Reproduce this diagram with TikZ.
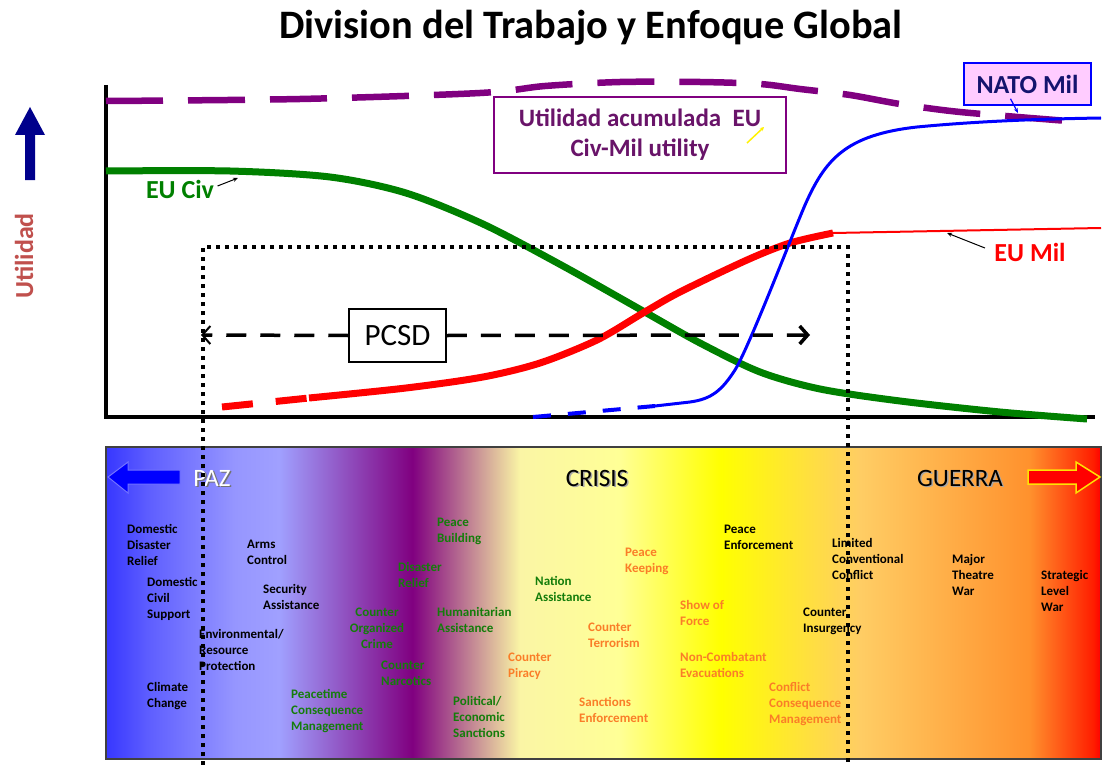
\documentclass[tikz,border=0pt]{standalone}
\usepackage{fontspec}
\setmainfont{Carlito}
\usetikzlibrary{arrows.meta}
\definecolor{cgreen}{RGB}{0,128,0}
\definecolor{cred}{RGB}{255,0,0}
\definecolor{cblue}{RGB}{0,0,255}
\definecolor{cpurple}{RGB}{128,0,128}
\definecolor{ptext}{RGB}{105,20,105}
\definecolor{tgreen}{RGB}{20,125,10}
\definecolor{torange}{RGB}{250,125,40}
\definecolor{navyarrow}{RGB}{0,0,140}
\definecolor{navytext}{RGB}{20,20,110}
\definecolor{natopink}{RGB}{255,204,255}
\definecolor{utilred}{RGB}{192,80,77}
\definecolor{sa}{RGB}{55,55,255}
\definecolor{sb}{RGB}{95,95,255}
\definecolor{sc}{RGB}{150,150,255}
\definecolor{sd}{RGB}{160,160,255}
\definecolor{se}{RGB}{128,0,128}
\definecolor{sf}{RGB}{250,245,165}
\definecolor{sg}{RGB}{255,255,150}
\definecolor{sh}{RGB}{255,255,0}
\definecolor{si}{RGB}{255,205,100}
\definecolor{sj}{RGB}{255,145,45}
\definecolor{sk}{RGB}{255,30,0}
\definecolor{sl}{RGB}{255,0,0}
\pgfdeclarehorizontalshading{spectrum}{100bp}{color(0bp)=(sa); color(25bp)=(sa); color(27.2bp)=(sb); color(31.5bp)=(sc); color(33.7bp)=(sd); color(40.4bp)=(se); color(45.8bp)=(sf); color(50.8bp)=(sg); color(55.9bp)=(sh); color(62.9bp)=(si); color(71.4bp)=(sj); color(74.6bp)=(sk); color(75bp)=(sl); color(100bp)=(sl)}
\tikzset{
  sm/.style={font=\fontsize{13}{16}\selectfont\bfseries, align=left, anchor=north west, inner sep=0pt},
  smk/.style={sm, text=black},
  smg/.style={sm, text=tgreen},
  smo/.style={sm, text=torange},
  zone/.style={font=\fontsize{25}{30}\selectfont},
  curvelabel/.style={font=\fontsize{26}{30}\selectfont\bfseries},
  pointer/.style={line width=1pt, -{Stealth[length=5pt,width=4pt]}},
  dotline/.style={line width=4pt, dash pattern=on 4pt off 5pt},
}
\begin{document}
\begin{tikzpicture}[x=1pt,y=-1pt]
\useasboundingbox (0,0) rectangle (1103,765);

% title
\node[font=\fontsize{40.4}{48}\selectfont\bfseries] (title) at (591,28) {Division del Trabajo y Enfoque Global};

% bottom spectrum panel
\shade[shading=spectrum] (106,447) rectangle (1101,759);
\draw[line width=2pt, draw=black!75] (106,447) rectangle (1101,759);
\coordinate (panel) at (603,603);

% panel arrows
\filldraw[fill=blue, draw=blue!55, line width=1pt] (108,477) -- (128,462) -- (128,470) -- (180,470) -- (180,484) -- (128,484) -- (128,493) -- cycle;
\filldraw[fill=red, draw=yellow!85!orange, line width=1.5pt] (1028,470) -- (1076,470) -- (1076,462) -- (1100,477) -- (1076,493) -- (1076,484) -- (1028,484) -- cycle;

% zone names
\node[zone, text=black!55] at (213.5,479.5) {PAZ};
\node[zone, text=white] (paz) at (212,478) {PAZ};
\node[zone, text=black!35] at (598.5,479.5) {CRISIS};
\node[zone, text=black] (crisis) at (597,478) {CRISIS};
\node[zone, text=black!35] at (961.5,479.5) {GUERRA};
\node[zone, text=black] (guerra) at (960,478) {GUERRA};

% small labels
\node[smk] (t1) at (127,524.5) {Domestic\\Disaster\\Relief};
\node[smk] (t2) at (247,539.5) {Arms\\Control};
\node[smk] (t3) at (147,577.5) {Domestic\\Civil\\Support};
\node[smk] (t4) at (263,584.5) {Security\\Assistance};
\node[smk] (t5) at (199,629.5) {Environmental/\\Resource\\Protection};
\node[smk] (t6) at (147,682.5) {Climate\\Change};
\node[smk] (t7) at (724,524.5) {Peace\\Enforcement};
\node[smk] (t8) at (803,607.5) {Counter\\Insurgency};
\node[smk] (t9) at (832,538.5) {Limited\\Conventional\\Conflict};
\node[smk] (t10) at (952,554.5) {Major\\Theatre\\War};
\node[smk] (t11) at (1041,570.5) {Strategic\\Level\\War};
\node[smg] (g1) at (291,689.5) {Peacetime\\Consequence\\Management};
\node[smg] (g2) at (437,517.5) {Peace\\Building};
\node[smg] (g3) at (398,562.5) {Disaster\\Relief};
\node[smg, align=center, anchor=north] (g4) at (377,607.5) {Counter\\Organized\\Crime};
\node[smg] (g5) at (437,607.5) {Humanitarian\\Assistance};
\node[smg] (g6) at (381,660.5) {Counter\\Narcotics};
\node[smg] (g7) at (535,576.5) {Nation\\Assistance};
\node[smg] (g8) at (453,696.5) {Political/\\Economic\\Sanctions};
\node[smo] (o1) at (508,652.5) {Counter\\Piracy};
\node[smo] (o2) at (625,547.5) {Peace\\Keeping};
\node[smo] (o3) at (680,600.5) {Show of\\Force};
\node[smo] (o4) at (588,622.5) {Counter\\Terrorism};
\node[smo] (o5) at (680,652.5) {Non-Combatant\\Evacuations};
\node[smo] (o6) at (579,697.5) {Sanctions\\Enforcement};
\node[smo] (o7) at (769,682.5) {Conflict\\Consequence\\Management};

% y label and arrow
\fill[navyarrow] (30,107) -- (45,135) -- (35,135) -- (35,180) -- (25,180) -- (25,135) -- (15,135) -- cycle;
\node[rotate=90, text=utilred, font=\fontsize{26}{30}\selectfont\bfseries] (ylab) at (24,256) {Utilidad};

% axes
\coordinate (origin) at (106,417);
\draw[line width=4pt] (106,85) -- (origin) -- (1095,417);

% accumulated utility (purple dashed)
\draw[cpurple, line width=6.5pt, dash pattern=on 57pt off 25pt] plot[smooth] coordinates {(106,101) (300,99) (480,93) (545,86) (620,82) (700,82) (760,84) (800,89) (850,95) (900,104) (960,112) (1068,121)};

% EU Civ (green)
\draw[cgreen, line width=7pt] plot[smooth] coordinates {(106,171) (230,171) (330,177) (406,193) (483,224) (563,266) (643,311) (700,343) (760,372) (820,389) (900,401) (1000,412) (1087,419)};

% EU Mil (red)
\draw[cred, line width=7pt, dash pattern=on 31pt off 23pt] (222,407) -- (309,398);
\draw[cred, line width=7pt] plot[smooth] coordinates {(309,398) (406,388) (483,377) (540,363) (597,340) (643,313) (680,292) (747,260) (790,243) (833,233)};
\draw[cred, line width=2pt] (833,233) -- (1101,228);

% NATO Mil (blue)
\draw[cblue, line width=4pt, dash pattern=on 18pt off 17pt] plot[smooth] coordinates {(533,417) (600,411) (655,406)};
\draw[cblue, line width=3pt] (655,406) -- (690,402) .. controls (712,399) and (722,390) .. (735,370) .. controls (750,345) and (790,240) .. (805,205) .. controls (825,160) and (845,135) .. (917,127) .. controls (980,121) and (1040,119) .. (1101,118);

% PCSD dotted frame
\coordinate (fbl) at (203,765);
\coordinate (ftl) at (203,247);
\coordinate (ftr) at (848,247);
\coordinate (fbr) at (848,765);
\draw[dotline] (fbl) -- (ftl) -- (ftr) -- (fbr);

% PCSD box and range arrow
\node[draw, line width=1.5pt, fill=white, minimum width=97pt, minimum height=53pt, font=\fontsize{31}{36}\selectfont] (pcsd) at (397.5,335.5) {PCSD};
\coordinate (pl) at (201,335);
\coordinate (pr) at (810,335);
\draw[line width=3.5pt, dash pattern=on 20pt off 14pt, -{Straight Barb[length=8pt,width=18pt,line width=2pt]}] (pcsd.west) -- (pl);
\draw[line width=3.5pt, dash pattern=on 20pt off 14pt, -{Straight Barb[length=8pt,width=18pt]}] (pcsd.east) -- (pr);

% curve labels
\node[curvelabel, text=cgreen] (euciv) at (180,189) {EU Civ};
\coordinate (eucivpt) at (238,178);
\draw[pointer] ([yshift=3pt]euciv.east) -- (eucivpt);

\node[curvelabel, text=cred] (eumil) at (1030,252) {EU Mil};
\coordinate (eumilpt) at (947,233);
\draw[pointer] ([xshift=-6pt,yshift=4pt]eumil.west) -- (eumilpt);

\node[draw=cblue, fill=natopink, line width=1.5pt, minimum width=127pt, minimum height=42pt, text=navytext, curvelabel] (nato) at (1027.5,84) {NATO Mil};
\coordinate (natopt) at (1018,113);
\draw[cblue, line width=1.2pt, -{Stealth[length=5pt,width=4pt]}] ([xshift=-17pt,yshift=7pt]nato.south) -- (natopt);

\node[draw=cpurple, fill=white, line width=1.5pt, minimum width=292pt, minimum height=76pt, align=center, text=ptext, font=\fontsize{25}{30}\selectfont\bfseries] (util) at (640,135) {Utilidad acumulada\ \ EU\\Civ-Mil utility};
\coordinate (eupt) at (764,127);
\draw[yellow, line width=1.5pt, -{Stealth[length=4pt,width=4pt]}] ([xshift=107pt,yshift=-8pt]util.center) -- (eupt);
\end{tikzpicture}
\end{document}
